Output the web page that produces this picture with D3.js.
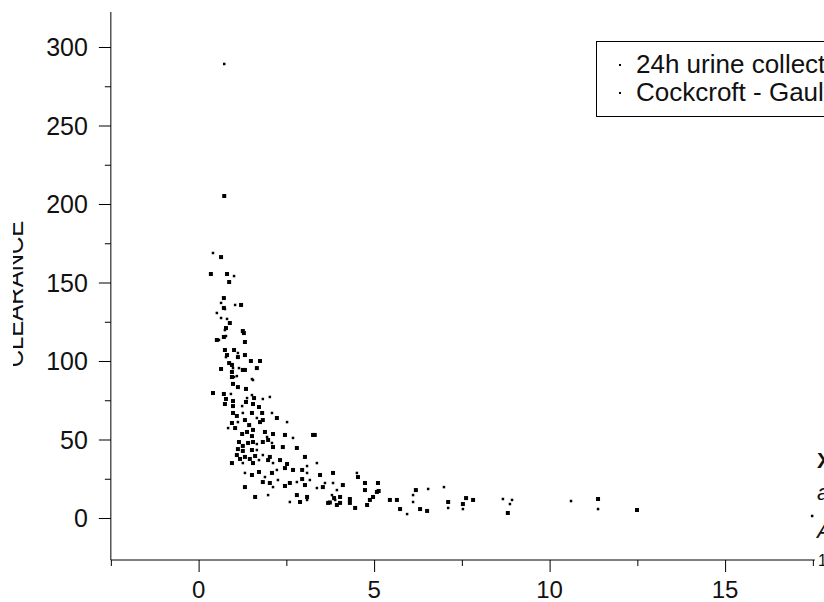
<!DOCTYPE html>
<html>
<head>
<meta charset="utf-8">
<script src="https://cdn.jsdelivr.net/npm/d3@7"></script>
<style>
  body { margin: 0; background: #fff; }
  svg { display: block; }
</style>
</head>
<body>
<script>
// data: [creatinine, clearance]
var urine_points = [
  [0.73,205.1],[0.64,166.2],[0.35,155.4],[0.81,155.4],[0.87,150.3],[0.72,140.1],[0.72,133.8],
  [1.21,135.7],[0.89,124.2],[0.78,121.0],[1.26,119.1],[1.29,117.8],[0.52,113.4],[0.72,115.3],
  [1.32,112.1],[0.75,107.0],[0.81,103.8],[1.01,107.0],[1.32,103.8],[1.12,102.5],[1.49,100.0],
  [1.75,100.0],[0.87,98.7],[0.95,97.5],[0.64,94.9],[1.32,94.3],[1.66,95.5],[0.95,93.0],
  [0.95,89.8],[1.26,94.3],[0.98,85.4],[1.12,83.4],[1.35,82.2],[0.41,79.6],[0.72,79.0],
  [0.78,75.8],[0.98,74.5],[1.58,76.4],[1.35,73.9],[0.75,72.6],[0.98,71.3],[1.55,72.6],
  [1.72,70.7],[0.98,66.9],[1.09,65.0],[1.52,66.9],[1.81,66.9],[2.23,63.7],[1.83,62.4],
  [1.75,61.1],[1.32,62.4],[0.95,60.5],[1.04,57.3],[1.44,59.2],[1.55,56.1],[1.38,54.8],
  [1.24,53.5],[1.52,52.2],[1.89,54.8],[2.12,53.5],[2.46,52.9],[3.26,52.9],[3.31,52.9],
  [1.15,48.4],[1.26,45.9],[1.41,47.8],[1.55,48.4],[1.83,48.4],[1.98,49.7],[2.12,45.2],
  [2.40,45.2],[2.80,44.6],[1.12,43.9],[1.26,42.7],[1.52,43.3],[1.09,40.1],[1.32,38.9],
  [1.61,39.5],[2.03,38.9],[1.18,37.6],[1.46,37.6],[1.98,36.9],[0.95,35.0],[1.55,35.0],
  [2.32,36.9],[2.52,34.4],[3.03,38.9],[1.52,27.4],[1.72,29.3],[2.09,28.7],[2.46,31.8],
  [2.69,30.6],[2.95,30.6],[3.46,27.4],[3.83,28.7],[4.54,26.1],[1.83,22.9],[2.03,22.3],
  [2.60,22.3],[2.95,24.8],[3.03,21.0],[4.11,21.0],[1.32,19.7],[2.46,20.4],[3.54,19.7],
  [1.61,13.4],[2.80,14.6],[3.09,13.4],[2.89,10.2],[3.69,9.6],[3.74,9.9],[4.03,9.6],
  [4.31,12.1],[4.46,6.4],[4.74,22.3],[5.11,22.3],[4.74,17.8],[5.08,16.6],[5.13,17.2],
  [3.86,12.7],[4.03,13.4],[4.97,13.4],[4.88,11.5],[5.45,11.5],[5.65,11.5],[3.94,8.3],
  [4.31,9.6],[4.80,8.3],[5.74,5.7],[6.19,17.8],[6.31,5.7],[6.51,4.5],[7.11,10.2],
  [7.53,8.9],[7.62,12.7],[7.82,11.5],[8.81,3.2],[11.38,12.1],[12.49,5.1]
];
var cockcroft_points = [
  [0.73,289.2],[0.41,168.8],[1.01,154.1],[0.64,137.0],[0.75,133.1],[1.04,135.7],[0.52,130.6],
  [0.64,127.4],[0.81,126.8],[0.75,119.7],[0.58,113.4],[0.78,115.9],[0.78,102.5],[1.12,105.1],
  [0.98,95.5],[1.15,95.5],[1.01,89.8],[1.52,88.5],[1.09,90.4],[1.55,87.9],[0.92,79.0],
  [1.38,76.4],[1.52,78.3],[1.83,75.8],[2.03,77.1],[1.24,71.3],[1.26,66.9],[2.09,66.9],
  [2.52,61.1],[1.66,63.7],[1.12,61.1],[0.84,57.3],[1.95,51.6],[2.69,51.0],[1.66,47.1],
  [2.09,47.8],[1.66,43.3],[1.83,40.1],[1.72,36.9],[1.26,35.0],[2.12,35.0],[3.09,33.1],
  [3.37,35.0],[1.32,28.7],[1.89,26.1],[2.23,30.6],[3.09,28.7],[4.51,28.7],[2.26,24.2],
  [2.80,22.9],[3.17,24.2],[3.60,22.3],[3.83,22.3],[2.12,19.7],[3.37,19.1],[3.94,17.8],
  [1.98,14.6],[2.60,10.2],[3.09,11.5],[3.89,11.5],[3.80,14.6],[5.94,2.5],[6.54,18.5],
  [6.11,14.6],[6.11,10.2],[6.99,19.7],[7.11,6.4],[7.53,5.7],[8.67,12.1],[8.93,11.5],
  [8.87,8.9],[10.61,10.8],[11.38,5.7],[17.48,1.3]
];
var series_names = ["24h urine collection", "Cockcroft - Gault"];
var x_ticks = [0, 5, 10, 15];
var y_ticks = [0, 50, 100, 150, 200, 250, 300];

var width = 824, height = 602;
var font = "'Liberation Sans', Arial, sans-serif";

var svg = d3.select("body").append("svg")
  .attr("width", width)
  .attr("height", height);

svg.append("rect").attr("width", width).attr("height", height).attr("fill", "#fff");

// scales, fitted to the axis positions in the picture
var x = d3.scaleLinear().domain([-2.5, 17.5]).range([110.85, 812.85]);
var y = d3.scaleLinear().domain([-26.75, 322.3]).range([560, 12]);

// X axis, major ticks plus minor ticks in between
var x_axis = svg.append("g").attr("transform", "translate(0," + y(-26.75) + ")");
x_axis.call(d3.axisBottom(x).tickValues(d3.range(-2.5, 17.6, 2.5)).tickSize(6).tickFormat(""));
x_axis.call(g => g.selectAll(".tick").filter(d => x_ticks.indexOf(d) >= 0).select("line").attr("y2", 12));
x_axis.select(".domain").attr("d", "M" + x(-2.5) + ",0H" + (x(17.5) + 2));
x_axis.selectAll("line, path").attr("stroke", "#000");
x_axis.selectAll(".x-label")
  .data(x_ticks)
  .enter().append("text")
  .attr("class", "x-label")
  .attr("x", d => x(d))
  .attr("y", 38)
  .attr("text-anchor", "middle")
  .style("font-family", font)
  .style("font-size", "24px")
  .style("fill", "#111")
  .text(d => d);

// Y axis
var y_axis = svg.append("g").attr("transform", "translate(" + x(-2.5) + ",0)");
y_axis.call(d3.axisLeft(y).tickValues(d3.range(0, 301, 25)).tickSize(6).tickFormat(""));
y_axis.call(g => g.selectAll(".tick").filter(d => y_ticks.indexOf(d) >= 0).select("line").attr("x2", -12));
y_axis.select(".domain").attr("d", "M0," + y(-26.75) + "V" + y(322.3));
y_axis.selectAll("line, path").attr("stroke", "#000");
y_axis.selectAll(".y-label")
  .data(y_ticks)
  .enter().append("text")
  .attr("class", "y-label")
  .attr("x", -23)
  .attr("y", d => y(d))
  .attr("dy", "0.36em")
  .attr("text-anchor", "end")
  .style("font-family", font)
  .style("font-size", "25px")
  .style("fill", "#111")
  .text(d => d);

// Y title is partly cut off on the left in the original, so clip it
svg.append("clipPath").attr("id", "ytitle-clip")
  .append("rect").attr("x", 13).attr("y", 0).attr("width", 40).attr("height", height);
svg.append("g")
  .attr("clip-path", "url(#ytitle-clip)")
  .append("text")
  .attr("transform", "translate(23,294) rotate(-90)")
  .attr("text-anchor", "middle")
  .style("font-family", font)
  .style("font-size", "24px")
  .style("fill", "#111")
  .text("CLEARANCE");

// points: bigger squares for the urine series, small dots for Cockcroft-Gault
var plot = svg.append("g");
plot.selectAll(".urine")
  .data(urine_points)
  .enter().append("rect")
  .attr("class", "urine")
  .attr("x", d => x(d[0]) - 2)
  .attr("y", d => y(d[1]) - 2)
  .attr("width", 4)
  .attr("height", 4)
  .attr("fill", "#000");

plot.selectAll(".cg")
  .data(cockcroft_points)
  .enter().append("rect")
  .attr("class", "cg")
  .attr("x", d => x(d[0]) - 1.25)
  .attr("y", d => y(d[1]) - 1.25)
  .attr("width", 2.5)
  .attr("height", 2.5)
  .attr("fill", "#000");

// legend box (runs off the right edge, as in the original)
var legend = svg.append("g");
legend.append("rect")
  .attr("x", 596.5).attr("y", 41.5)
  .attr("width", 300).attr("height", 75)
  .attr("fill", "#fff")
  .attr("stroke", "#000");

series_names.forEach(function (name, i) {
  var ly = 65 + i * 28;
  legend.append("rect")
    .attr("x", 619).attr("y", ly - 1)
    .attr("width", 2).attr("height", 2)
    .attr("fill", "#000");
  legend.append("text")
    .attr("x", 636)
    .attr("y", ly + 8)
    .style("font-family", font)
    .style("font-size", "26px")
    .style("fill", "#111")
    .text(name);
});

// stray annotation text cut off at the right edge
var notes = [["X", 468, "bold", "normal"], ["a", 500, "normal", "italic"], ["A", 538, "normal", "italic"]];
notes.forEach(function (n) {
  svg.append("text")
    .attr("x", 817)
    .attr("y", n[1])
    .style("font-family", font)
    .style("font-size", "22px")
    .style("font-weight", n[2])
    .style("font-style", n[3])
    .style("fill", "#111")
    .text(n[0]);
});
svg.append("text")
  .attr("x", 818).attr("y", 566)
  .style("font-family", font)
  .style("font-size", "16px")
  .style("fill", "#111")
  .text("1");
</script>
</body>
</html>
